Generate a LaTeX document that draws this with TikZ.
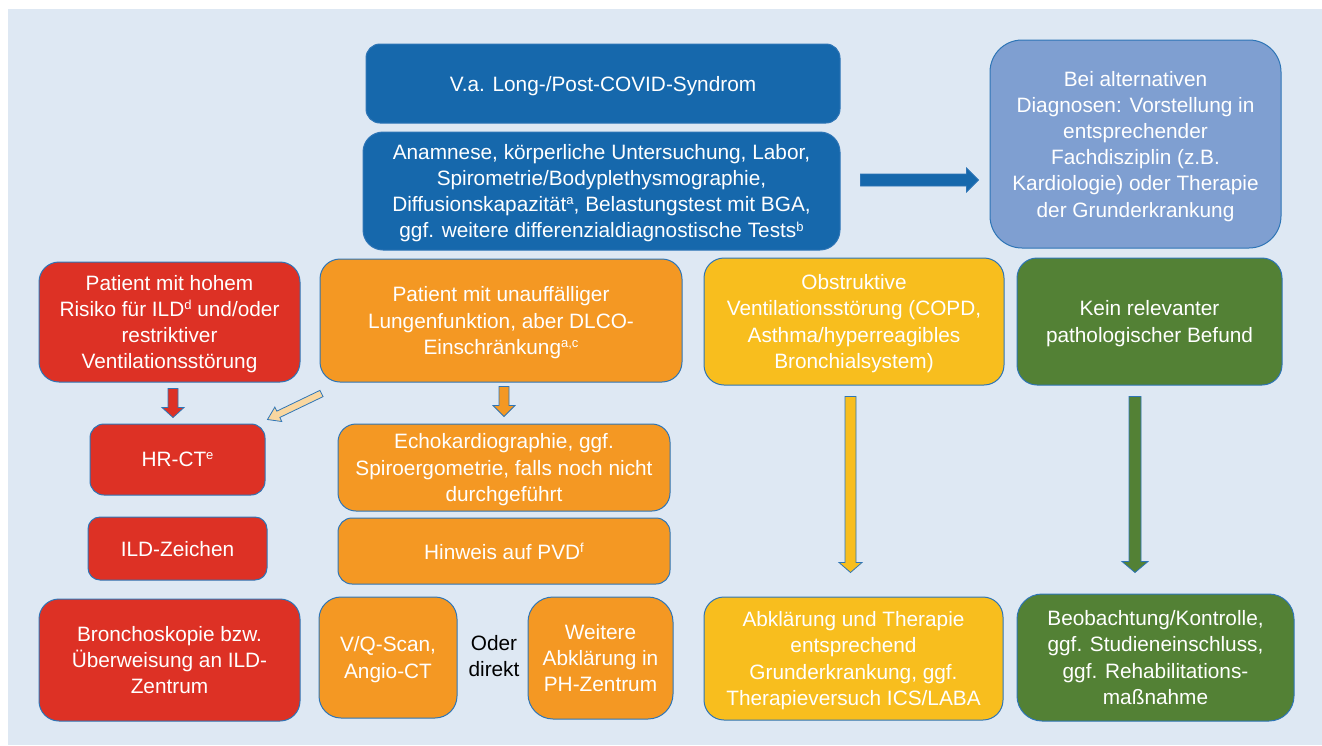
\documentclass[tikz,border=0pt]{standalone}
\usepackage{fontspec}
\setmainfont{Liberation Sans}
\usetikzlibrary{calc}
\definecolor{bgblue}{RGB}{222,232,243}
\definecolor{edgeblue}{RGB}{46,117,182}
\definecolor{darkblue}{RGB}{22,104,172}
\definecolor{paleblue}{RGB}{127,159,209}
\definecolor{boxred}{RGB}{221,49,37}
\definecolor{boxorange}{RGB}{244,152,35}
\definecolor{boxyellow}{RGB}{248,190,30}
\definecolor{boxgreen}{RGB}{83,129,53}
\definecolor{peach}{RGB}{249,215,160}
\newcommand{\hochz}[1]{\raisebox{0.62ex}{\fontsize{13}{13}\selectfont #1}}
\newcommand{\blockarrow}[6]{%
  \coordinate (ba-base) at ($(#2)!#6!(#1)$);
  \filldraw[fill=#3, draw=edgeblue, line width=0.8pt, line join=miter]
    ($(#1)!#4!90:(#2)$) -- ($(ba-base)!#4!90:(#2)$) -- ($(ba-base)!#5!90:(#2)$) -- (#2)
    -- ($(ba-base)!#5!-90:(#2)$) -- ($(ba-base)!#4!-90:(#2)$) -- ($(#1)!#4!-90:(#2)$) -- cycle;
}
\begin{document}
\begin{tikzpicture}[x=1pt, y=-1pt]
\tikzstyle{every node}+=[inner sep=0pt]
\tikzstyle{box}=[draw=edgeblue, line width=1pt, rounded corners=20pt, text=white, align=center, text depth=0pt, font=\fontsize{20.8}{26.2}\selectfont]
\useasboundingbox (0,0) rectangle (1322,745);
\fill [bgblue] (8,9) rectangle (1322,745);
\node [box, fill=darkblue, rounded corners=14pt, minimum width=474pt, minimum height=79pt] (syndrom) at (603,83.5) {V.a. Long-/Post-COVID-Syndrom};
\node [box, fill=darkblue, minimum width=477pt, minimum height=118pt] (diagnostik) at (601.5,191) {Anamnese, körperliche Untersuchung, Labor,\\ Spirometrie/Bodyplethysmographie,\\ Diffusionskapazität\hochz{a}, Belastungstest mit BGA,\\ ggf. weitere differenzialdiagnostische Tests\hochz{b}};
\node [box, fill=paleblue, rounded corners=32pt, minimum width=291pt, minimum height=208pt] (alternativ) at (1135.5,144) {Bei alternativen\\ Diagnosen: Vorstellung in\\ entsprechender\\ Fachdisziplin (z.B.\\ Kardiologie) oder Therapie\\ der Grunderkrankung};
\node [box, fill=boxred, minimum width=261pt, minimum height=120pt] (ildrisiko) at (169.5,322) {Patient mit hohem\\ Risiko für ILD\hochz{d} und/oder\\ restriktiver\\ Ventilationsstörung};
\node [box, fill=boxorange, minimum width=362pt, minimum height=123pt] (dlco) at (501,320.5) {Patient mit unauffälliger\\ Lungenfunktion, aber DLCO-\\ Einschränkung\hochz{a,c}};
\node [box, fill=boxyellow, minimum width=300pt, minimum height=127pt] (obstruktiv) at (854,321.5) {Obstruktive\\ Ventilationsstörung (COPD,\\ Asthma/hyperreagibles\\ Bronchialsystem)};
\node [box, fill=boxgreen, minimum width=265pt, minimum height=127pt] (keinbefund) at (1149.5,321.5) {Kein relevanter\\ pathologischer Befund};
\node [box, fill=boxred, rounded corners=14pt, minimum width=175pt, minimum height=71pt] (hrct) at (177.5,459.5) {HR-CT\hochz{e}};
\node [box, fill=boxred, rounded corners=12pt, minimum width=179pt, minimum height=63pt] (ildzeichen) at (177.5,548.5) {ILD-Zeichen};
\node [box, fill=boxred, minimum width=261pt, minimum height=122pt] (broncho) at (169.5,660) {Bronchoskopie bzw.\\ Überweisung an ILD-\\ Zentrum};
\node [box, fill=boxorange, rounded corners=18pt, minimum width=332pt, minimum height=87pt] (echo) at (504,467.5) {Echokardiographie, ggf.\\ Spiroergometrie, falls noch nicht\\ durchgeführt};
\node [box, fill=boxorange, rounded corners=14pt, minimum width=332pt, minimum height=66pt] (pvd) at (504,551) {Hinweis auf PVD\hochz{f}};
\node [box, fill=boxorange, rounded corners=22pt, minimum width=138pt, minimum height=121pt] (vqscan) at (388,657.5) {V/Q-Scan,\\ Angio-CT};
\node [align=center, text depth=0pt, font=\fontsize{20.8}{26.2}\selectfont] (oder) at (494,656) {Oder\\ direkt};
\node [box, fill=boxorange, rounded corners=25pt, minimum width=145pt, minimum height=122pt] (phzentrum) at (600.5,658) {Weitere\\ Abklärung in\\ PH-Zentrum};
\node [box, fill=boxyellow, minimum width=299pt, minimum height=123pt] (therapie) at (853.5,658.5) {Abklärung und Therapie\\ entsprechend\\ Grunderkrankung, ggf.\\ Therapieversuch ICS/LABA};
\node [box, fill=boxgreen, rounded corners=25pt, minimum width=277pt, minimum height=127pt] (kontrolle) at (1155.5,657.5) {Beobachtung/Kontrolle,\\ ggf. Studieneinschluss,\\ ggf. Rehabilitations-\\ maßnahme};
\coordinate (p1) at ($(diagnostik.east)+(20,-11)$);
\coordinate (p2) at ($(alternativ.west)+(-11,36)$);
\coordinate (r1) at ($(ildrisiko.south)+(3.5,6)$);
\coordinate (r2) at ($(hrct.north)+(-4.5,-6)$);
\coordinate (o1) at ($(dlco.south)+(3,4)$);
\coordinate (o2) at ($(echo.north)+(0,-7)$);
\coordinate (d1) at ($(dlco.south west)+(2,11)$);
\coordinate (d2) at ($(hrct.north east)+(2,-4)$);
\coordinate (y1) at ($(obstruktiv.south)+(-3.5,11)$);
\coordinate (y2) at ($(therapie.north)+(-3,-24)$);
\coordinate (g1) at ($(keinbefund.south)+(-14.5,11)$);
\coordinate (g2) at ($(kontrolle.north)+(-20.5,-21)$);
\blockarrow{p1}{p2}{darkblue}{6pt}{12pt}{12pt}
\blockarrow{r1}{r2}{boxred}{5pt}{11pt}{10pt}
\blockarrow{o1}{o2}{boxorange}{5pt}{11pt}{11pt}
\blockarrow{d1}{d2}{peach}{3.5pt}{8pt}{12pt}
\blockarrow{y1}{y2}{boxyellow}{5.5pt}{11.5pt}{10pt}
\blockarrow{g1}{g2}{boxgreen}{6pt}{13pt}{11pt}
\end{tikzpicture}
\end{document}
